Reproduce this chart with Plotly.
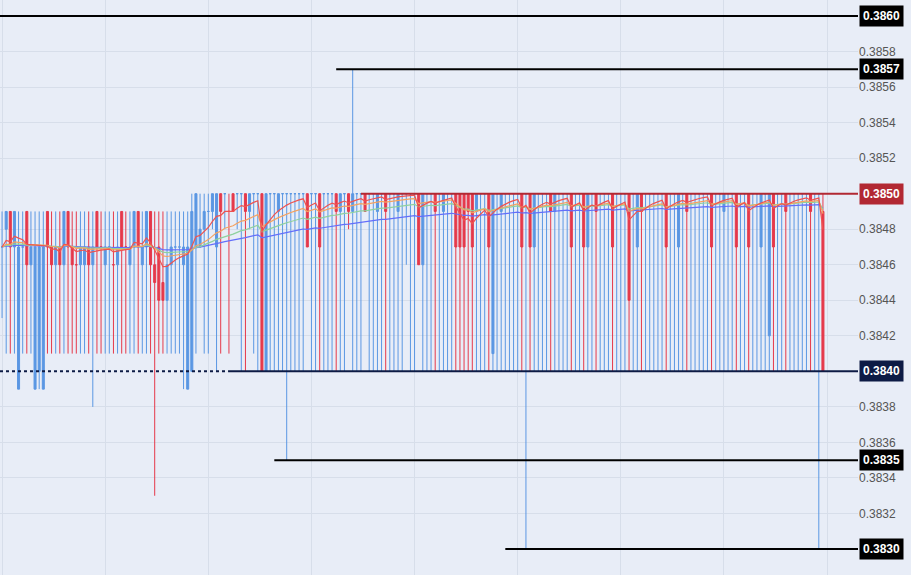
import plotly.graph_objects as go
import pandas as pd

BASE = 0.3830
U = 0.0001
o_ = [17,18,19,17, 9,17,19,16, 9,10, 9,19,17,16,17,16,19,17,16,16,
      16,17,16,19,17,16,17,16,16,19,17,16,17,19,16,17,19,16,17,15,
      14,16,17,17,16, 9,10,17,17,18,19,19,17,20,20,19,20,20,20,20,
      19,20,20,20,10,20,20,19,20,20,20,20,20,20,20,20,20,20,20,20,
      20,20,19,20,20,19,20,20,20,20,20,19,20,20,20,20,19,20,20,20,
      20,20,16,20,20,20,20,19,20,20,20,20,20,20,20,19,20,20,20,11,
      20,19,20,20,20,20,20,20,20,17,20,20,20,20,19,20,20,20,20,20,
      20,20,17,20,20,20,20,20,20,20,20,20,20,20,17,20,20,20,20,20,
      20,20,20,20,17,20,20,20,20,20,20,20,20,20,20,19,20,20,20,20,
      20,20,20,20,17,20,12,20,20,20,20,20,20,20,20,20,20,20,20,19]
h_ = [19]*40 + [19,19,19,19,19,19,20,20,20,20,20,20,20,20,20,20,20,20,20,20] + \
     [20]*25 + [27] + [20]*134
l_ = [13,11,11,11, 9,11,11,11, 9, 9, 9,11,11,11,11,11,11,11,11,11,
      11,11, 8,11,11,11,11,11,11,11,11,11,11,11,11,11,11, 3,11,11,
      11,11,11,11, 9, 9,17,11,17,11,11,18,10,11,18,11,19,18,10,10,
      18,11,10,10,10,10,10,10,10, 5,10,10,10,10,18,10,10,10,10,10,
      10,10,10,10,18,10,10,10,19,10,10,10,10,10,10,10,10,10,16,10,
      10,16,10,10,10,10,10,10,10,10,10,10,10,10,10,10,10,10,10,10,
      10,10,10,10,10,10,10, 0,10,10,10,10,10,10,10,10,10,10,10,10,
      10,10,10,10,10,10,10,10,10,10,10,10,10,10,10,10,10,10,10,10,
      10,10,10,10,10,10,10,10,10,10,10,10,10,10,10,10,10,10,10,10,
      10,10,10,10,10,10,10,10,10,10,10,10,10,10,10,10,10,10, 0,10]
c_ = [17,19,17,19,17,17,16,17,17,17,17,17,16,17,16,19,17,16,16,17,
      17,16,17,17,17,17,17,16,17,17,17,17,19,17,17,19,16,15,14,14,
      16,17,17,17,17,17,19,20,18,19,19,20,20,19,20,19,19,20,20,19,
      20,20,20,10,20,20,20,20,20,20,20,20,20,20,17,20,20,17,20,20,
      20,19,20,20,19,20,20,20,19,20,20,20,20,19,20,20,20,20,20,20,
      20,16,20,20,20,19,20,20,20,20,17,17,17,19,17,20,20,20,17,20,
      20,20,20,20,20,20,17,20,17,20,20,20,20,19,20,20,20,20,17,20,
      20,17,20,20,19,20,20,20,17,20,20,20,14,20,20,19,20,20,20,20,
      20,17,20,20,20,20,19,20,20,20,20,20,17,20,20,20,20,20,17,20,
      20,17,20,20,20,20,20,17,20,20,19,20,20,20,20,20,19,20,20,10]
tick_vals = [0.3858, 0.3856, 0.3854, 0.3852, 0.3848, 0.3846, 0.3844, 0.3842,
             0.3838, 0.3836, 0.3834, 0.3832]

opens = [BASE + v*U for v in o_]
highs = [BASE + max(v, o, c)*U for v, o, c in zip(h_, o_, c_)]
lows = [BASE + min(v, o, c)*U for v, o, c in zip(l_, o_, c_)]
closes = [BASE + v*U for v in c_]
x = list(range(len(opens)))

fig = go.Figure()
fig.add_trace(go.Candlestick(x=x, open=opens, high=highs, low=lows, close=closes,
    increasing=dict(line=dict(color="#5b97e3", width=1), fillcolor="#5b97e3"),
    decreasing=dict(line=dict(color="#e5394b", width=1), fillcolor="#e5394b"),
    whiskerwidth=0, showlegend=False))

s = pd.Series(closes)
for span, col in [(90, "#636efa"), (45, "#8fd19e"), (25, "#f4a261"), (10, "#ef5350")]:
    fig.add_trace(go.Scatter(x=x, y=s.ewm(span=span, adjust=False).mean(), mode="lines",
                             line=dict(color=col, width=1.2), showlegend=False, hoverinfo="skip"))

levels = [(0.3860, -0.5, "black", "black"),
          (0.3857, 81, "black", "black"),
          (0.3850, 87, "#b22833", "#b22833"),
          (0.3840, 55, "#0d1b45", "#0d1b45"),
          (0.3835, 66, "black", "black"),
          (0.3830, 122, "black", "black")]
for y, x0, col, bg in levels:
    fig.add_shape(type="line", xref="x", yref="y", x0=x0, x1=207.5, y0=y, y1=y,
                  line=dict(color=col, width=2))
    fig.add_annotation(xref="paper", yref="y", x=1.0, y=y, xanchor="left", text=f"<b>{y:.4f}</b>",
                       showarrow=False, bgcolor=bg, font=dict(color="white", size=12, family="Arial"),
                       borderpad=3, xshift=1)
fig.add_shape(type="line", xref="x", yref="y", x0=-0.5, x1=55, y0=0.3840, y1=0.3840,
              line=dict(color="#0d1b45", width=2, dash="dot"))

fig.update_layout(width=911, height=575, margin=dict(l=0, r=53, t=0, b=0, autoexpand=False),
                  plot_bgcolor="#e8edf7", paper_bgcolor="#e8edf7",
                  xaxis=dict(range=[-0.5, 207.5], rangeslider=dict(visible=False), showticklabels=False,
                             gridcolor="#d7deea", dtick=25, zeroline=False),
                  yaxis=dict(side="right", range=[0.382854, 0.38609], tickvals=tick_vals, tickformat=".4f",
                             gridcolor="#d7deea", tickfont=dict(color="#555", size=12, family="Arial"),
                             zeroline=False))
fig.write_html("out.html", config={"displayModeBar": False},
               post_script="document.body.style.margin='0';document.body.style.overflow='hidden';")
